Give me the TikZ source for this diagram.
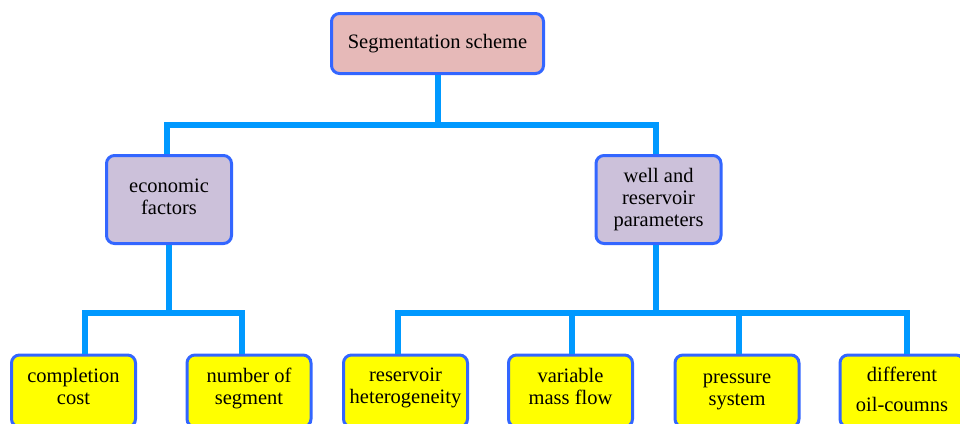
\documentclass[tikz,border=0pt]{standalone}
\usepackage{fontspec}
\setmainfont{Liberation Serif}
\definecolor{conn}{RGB}{0,153,255}
\definecolor{bord}{RGB}{51,102,255}
\definecolor{pinkf}{RGB}{230,185,184}
\definecolor{lavf}{RGB}{204,193,218}
\definecolor{yelf}{RGB}{255,255,0}
\newcommand{\dstrut}[1]{\rule[-#1]{0pt}{1pt}}
\begin{document}
\begin{tikzpicture}[x=1pt,y=-1pt,
  box/.style={draw=bord,line width=3pt,rounded corners=8pt,align=center,inner sep=0pt,
    font=\fontsize{20.5}{21.8}\selectfont},
  topbox/.style={box,fill=pinkf,minimum width=212pt,minimum height=60pt},
  midbox/.style={box,fill=lavf,minimum width=125pt,minimum height=88pt},
  leafbox/.style={box,fill=yelf,minimum width=124pt,minimum height=72pt},
  link/.style={draw=conn,line width=6pt}]
\useasboundingbox (0,0) rectangle (960,423);
\clip (0,0) rectangle (960,423);
\node[topbox] (top) at (437.5,43.5) {Segmentation scheme};
\node[midbox] (econ) at (169,199.5) {economic\\factors\dstrut{6pt}};
\node[midbox] (well) at (658.5,199.5) {well and\\reservoir\\parameters};
\node[leafbox] (comp) at (73.5,391) {completion\\cost\dstrut{10pt}};
\node[leafbox] (numb) at (249,391) {number of\\segment\dstrut{10pt}};
\node[leafbox] (res) at (405.5,391) {reservoir\\heterogeneity\dstrut{10pt}};
\node[leafbox] (var) at (570.5,391) {variable\\mass flow\dstrut{10pt}};
\node[leafbox] (pres) at (737,391) {\strut pressure\\system\dstrut{8pt}};
\node[leafbox] (diff) at (902,391) {different\\[8pt]oil-coumns\dstrut{4pt}};
\coordinate (j1) at ([yshift=-50pt]top.south);
\coordinate (j2) at ([yshift=-68pt]econ.south);
\coordinate (j3) at ([yshift=-68pt,xshift=-2.5pt]well.south);
\draw[link] (top.south) -- (j1);
\draw[link] (j1) -| ([xshift=-2pt]econ.north);
\draw[link] (j1) -| ([xshift=-3pt]well.north);
\draw[link] (econ.south) -- (j2);
\draw[link] (j2) -| ([xshift=11.5pt]comp.north);
\draw[link] (j2) -| ([xshift=-7pt]numb.north);
\draw[link] (j3 |- well.south) -- (j3);
\draw[link] (j3) -| ([xshift=-8pt]res.north);
\draw[link] (j3) -| ([xshift=1.5pt]var.north);
\draw[link] (j3) -| ([xshift=2pt]pres.north);
\draw[link] (j3) -| ([xshift=5pt]diff.north);
\end{tikzpicture}
\end{document}
